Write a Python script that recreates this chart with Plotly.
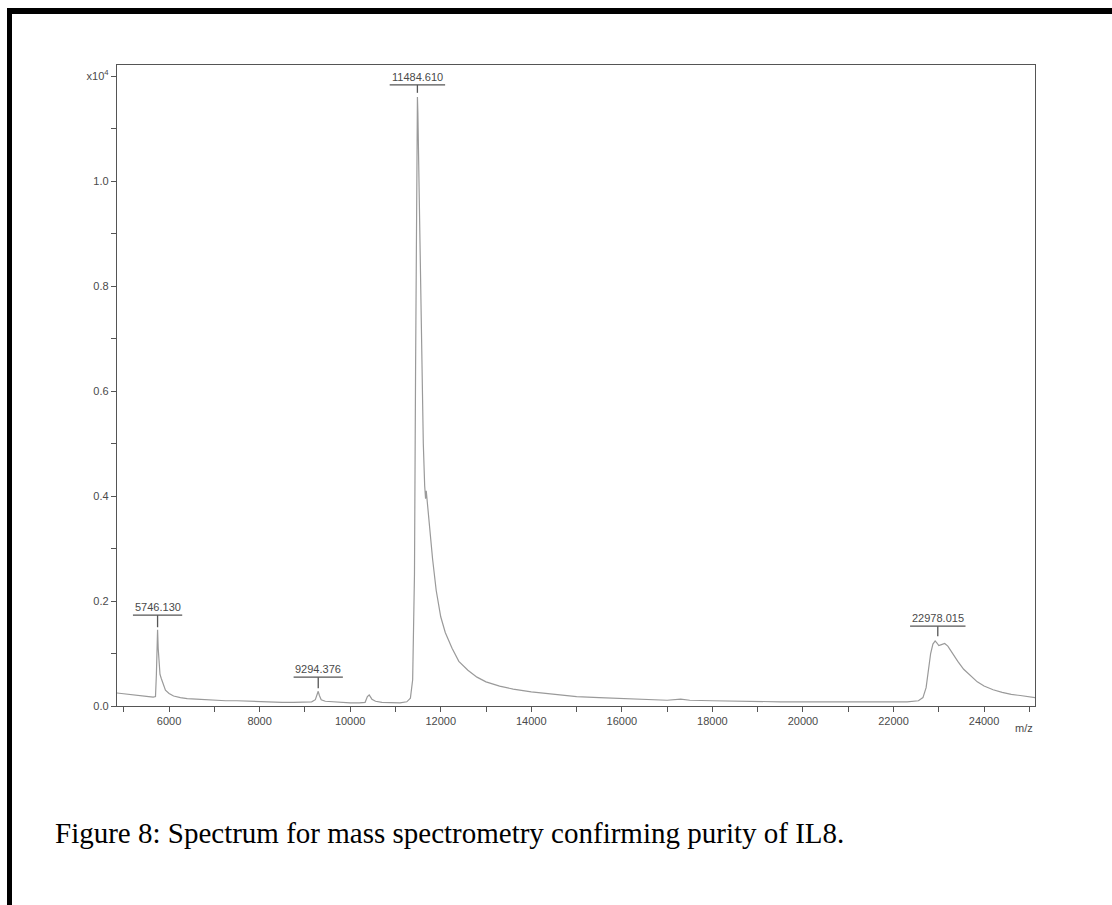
import plotly.graph_objects as go

# ---------------- data ----------------
mz = [4830, 4950, 5050, 5150, 5250, 5350, 5450, 5550, 5650, 5700, 5720, 5735, 5746, 5760, 5780,
      5800, 5830, 5870, 5920, 6000, 6100, 6250, 6400, 6600, 6800, 7000, 7250, 7500, 7750, 8000,
      8250, 8500, 8750, 9000, 9150, 9230, 9270, 9294, 9320, 9360, 9450, 9600, 9800, 10000, 10200,
      10330, 10380, 10420, 10480, 10560, 10700, 10900, 11100, 11250, 11330, 11380, 11420, 11445,
      11465, 11478, 11485, 11495, 11515, 11545, 11580, 11615, 11645, 11665, 11680, 11700, 11750,
      11820, 11900, 12000, 12100, 12250, 12400, 12600, 12800, 13000, 13300, 13600, 14000, 14500,
      15000, 15500, 16000, 16500, 17000, 17300, 17500, 18000, 18500, 19000, 19500, 20000, 20500,
      21000, 21500, 22000, 22300, 22550, 22650, 22720, 22770, 22820, 22870, 22920, 22960, 23000,
      23060, 23130, 23200, 23300, 23420, 23550, 23700, 23850, 24000, 24200, 24400, 24600, 24800,
      25000, 25130]
intensity = [0.025, 0.024, 0.023, 0.022, 0.021, 0.021, 0.019, 0.018, 0.017, 0.018, 0.060, 0.130, 0.145, 0.110, 0.070,
             0.060, 0.052, 0.040, 0.030, 0.024, 0.019, 0.016, 0.014, 0.013, 0.012, 0.011, 0.010, 0.010, 0.009, 0.008,
             0.008, 0.007, 0.007, 0.007, 0.008, 0.012, 0.022, 0.028, 0.020, 0.012, 0.009, 0.008, 0.007, 0.006, 0.006,
             0.007, 0.018, 0.021, 0.013, 0.009, 0.007, 0.006, 0.006, 0.008, 0.015, 0.050, 0.250, 0.650,
             1.020, 1.140, 1.160, 1.130, 1.020, 0.860, 0.660, 0.500, 0.420, 0.395, 0.410, 0.390, 0.340,
             0.280, 0.220, 0.170, 0.140, 0.110, 0.085, 0.068, 0.055, 0.046, 0.038, 0.032, 0.027, 0.022,
             0.018, 0.016, 0.014, 0.012, 0.011, 0.013, 0.011, 0.010, 0.009, 0.009, 0.008, 0.008, 0.008,
             0.007, 0.007, 0.007, 0.008, 0.010, 0.016, 0.035, 0.070, 0.100, 0.118, 0.124, 0.120, 0.115,
             0.117, 0.119, 0.114, 0.100, 0.085, 0.070, 0.057, 0.046, 0.038, 0.031, 0.026, 0.022, 0.020,
             0.018, 0.016]

peak_mz = [5746.130, 9294.376, 11484.610, 22978.015]
peak_labels = ["5746.130", "9294.376", "11484.610", "22978.015"]
peak_label_y = [0.173, 0.055, 1.183, 0.152]
peak_tick_bottom = [0.150, 0.034, 1.168, 0.133]

x_major = [6000, 8000, 10000, 12000, 14000, 16000, 18000, 20000, 22000, 24000]
x_major_text = ["6000", "8000", "10000", "12000", "14000", "16000", "18000", "20000", "22000", "24000"]
y_major = [0.0, 0.2, 0.4, 0.6, 0.8, 1.0, 1.2]
y_major_text = ["0.0", "0.2", "0.4", "0.6", "0.8", "1.0", "x10<sup>4</sup>"]

caption = "Figure 8: Spectrum for mass spectrometry confirming purity of IL8."

# ---------------- layout geometry ----------------
W, H = 1112, 905
ML, MR, MT, MB = 117, 77, 65, 199
PW, PH = W - ML - MR, H - MT - MB


def pxx(px):
    return (px - ML) / PW


def pxy(py):
    return (H - MB - py) / PH


axis_col = "#555555"
text_col = "#4a4a4a"
tick_font = dict(family="Arial, Liberation Sans, sans-serif", size=11, color=text_col)

fig = go.Figure()
fig.add_trace(go.Scatter(x=mz, y=intensity, mode="lines",
                         line=dict(color="#9a9a9a", width=1.2), hoverinfo="skip"))

shapes = []
annotations = []
for m, lab, ly, tb in zip(peak_mz, peak_labels, peak_label_y, peak_tick_bottom):
    half = len(lab) * 68
    shapes.append(dict(type="line", xref="x", yref="y", x0=m - half, x1=m + half, y0=ly, y1=ly,
                       line=dict(color=axis_col, width=1.3)))
    shapes.append(dict(type="line", xref="x", yref="y", x0=m, x1=m, y0=ly, y1=tb,
                       line=dict(color=axis_col, width=1.3)))
    annotations.append(dict(x=m, y=ly, xref="x", yref="y", text=lab, showarrow=False,
                            yanchor="bottom", xanchor="center", yshift=0, font=tick_font))

# m/z axis label
annotations.append(dict(x=pxx(1035), y=pxy(728), xref="paper", yref="paper", text="m/z",
                        showarrow=False, xanchor="right", yanchor="middle", font=tick_font))

# caption
annotations.append(dict(x=pxx(53), y=pxy(833), xref="paper", yref="paper", text=caption,
                        showarrow=False, xanchor="left", yanchor="middle",
                        font=dict(family="Liberation Serif, Times New Roman, serif", size=29, color="black")))

# black page border (top and left)
shapes.append(dict(type="rect", xref="paper", yref="paper", x0=pxx(7), x1=pxx(1120), y0=pxy(14), y1=pxy(8),
                   fillcolor="black", line=dict(width=0), layer="above"))
shapes.append(dict(type="rect", xref="paper", yref="paper", x0=pxx(7), x1=pxx(12), y0=pxy(910), y1=pxy(8),
                   fillcolor="black", line=dict(width=0), layer="above"))

fig.update_layout(
    width=W, height=H,
    margin=dict(l=ML, r=MR, t=MT, b=MB),
    paper_bgcolor="white", plot_bgcolor="white",
    showlegend=False,
    shapes=shapes, annotations=annotations,
    xaxis=dict(range=[4850, 25125], tickvals=x_major, ticktext=x_major_text,
               showgrid=False, zeroline=False, showline=True, mirror=True,
               linecolor=axis_col, linewidth=1.3, ticks="outside", ticklen=5, tickwidth=1.2,
               tickcolor=axis_col, tickfont=tick_font,
               minor=dict(tickvals=[5000, 7000, 9000, 11000, 13000, 15000, 17000, 19000, 21000, 23000, 25000],
                          ticks="outside", ticklen=5, tickwidth=1.2, tickcolor=axis_col, showgrid=False)),
    yaxis=dict(range=[0, 1.221], tickvals=y_major, ticktext=y_major_text,
               showgrid=False, zeroline=False, showline=True, mirror=True,
               linecolor=axis_col, linewidth=1.3, ticks="outside", ticklen=5, tickwidth=1.2,
               tickcolor=axis_col, tickfont=tick_font,
               minor=dict(tickvals=[0.1, 0.3, 0.5, 0.7, 0.9, 1.1],
                          ticks="outside", ticklen=5, tickwidth=1.2, tickcolor=axis_col, showgrid=False)),
)

fig.write_html("out.html")
